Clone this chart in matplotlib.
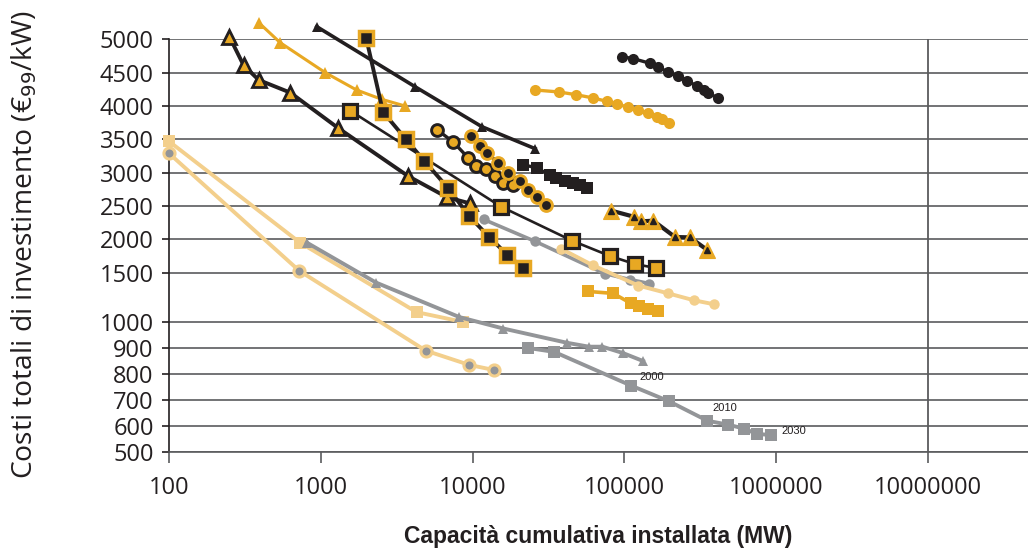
import numpy as np
import matplotlib
matplotlib.use("Agg")
import matplotlib.pyplot as plt
from matplotlib.ticker import NullLocator

INK = '#231F20'
GOLD = '#E8A823'
PEACH = '#F3CF8C'
GREY = '#939598'
GRID = '#5A5B5D'

# ---- axis ticks ----
x_ticks = [100, 1000, 10000, 100000, 1000000, 10000000]
x_tick_labels = ['100', '1000', '10000', '100000', '1000000', '10000000']
y_ticks = [500, 600, 700, 800, 900, 1000, 1500, 2000, 2500, 3000, 3500, 4000, 4500, 5000]

# ---- learning-curve series: cumulative capacity (MW) and cost (EUR99/kW) ----
s01_cap = [250, 310, 390, 630, 1300, 3750, 6800, 9600]
s01_cost = [5040, 4610, 4390, 4200, 3670, 2950, 2630, 2540]

s02_cap = [390, 540, 1070, 1720, 2520, 3590]
s02_cost = [5250, 4950, 4500, 4240, 4100, 4000]

s03_cap = [940, 4170, 11500, 25800]
s03_cost = [5190, 4290, 3690, 3360]

s04_cap = [1990, 2570, 3640, 4790, 6890, 9470, 12800, 16900, 21500]
s04_cost = [5020, 3910, 3500, 3180, 2770, 2350, 2040, 1770, 1570]

s05_cap = [1560, 15400, 45200, 80400, 117000, 162000]
s05_cost = [3930, 2490, 1980, 1750, 1630, 1570]

s06_cap = [5860, 7460, 9370, 10600, 12200, 14100, 15800, 18400]
s06_cost = [3640, 3460, 3220, 3100, 3050, 2950, 2840, 2820]

s07_cap = [9720, 11200, 12500, 14800, 17200, 20500, 23300, 26400, 30600]
s07_cost = [3550, 3400, 3290, 3150, 3000, 2870, 2740, 2630, 2510]

s08_cap = [21500, 26600, 32400, 35400, 40900, 45800, 51000, 57000]
s08_cost = [3120, 3070, 2960, 2920, 2880, 2850, 2810, 2770]

s09_cap = [96000, 114500, 147500, 165600, 192800, 224400, 259500, 299300, 335800, 357000, 415500]
s09_cost = [4740, 4710, 4640, 4590, 4510, 4450, 4380, 4300, 4240, 4190, 4120]

s10_cap = [25800, 37100, 47800, 62400, 76400, 89800, 105600, 122900, 142000, 164000, 176100, 196800]
s10_cost = [4240, 4210, 4170, 4120, 4070, 4030, 3980, 3940, 3890, 3840, 3810, 3750]

s11_cap = [82200, 115200, 128600, 155000, 215400, 270500, 351600]
s11_cost = [2430, 2340, 2270, 2280, 2035, 2030, 1840]

s12_cap = [11800, 25800, 74500, 109400, 145900]
s12_cost = [2300, 1970, 1490, 1430, 1390]

s13_cap = [38200, 62100, 123500, 194600, 287400, 389000]
s13_cost = [1860, 1610, 1370, 1290, 1220, 1180]

s14_cap = [57600, 84500, 110000, 125400, 143600, 167200]
s14_cost = [1310, 1290, 1190, 1160, 1130, 1110]

s15_cap = [100, 730, 4280, 8690]
s15_cost = [3470, 1950, 1100, 1000]

s16_cap = [100, 720, 4910, 9510, 13900]
s16_cost = [3290, 1530, 890, 835, 815]

s17_cap = [810, 2310, 8180, 15900, 41900, 58400, 71700, 98400, 132600]
s17_cost = [1950, 1400, 1050, 975, 920, 905, 905, 880, 850]

s18_cap = [23300, 34500, 111100, 196800, 352700, 483600, 613700, 743800, 923900]
s18_cost = [900, 885, 755, 695, 620, 605, 590, 570, 565]

year_labels = ['2000', '2010', '2030']
year_cap = [124800, 377700, 1076000]
year_cost = [790, 668, 582]

# ---- piecewise-linear cost axis (linear 500-1000, 1000-1500, 1500-5000) ----
_kv = np.array([500., 1000., 1500., 5000.])
_kp = np.array([0., 130., 179.3, 412.7])
_s_lo = 130. / 500.
_s_hi = (412.7 - 179.3) / 3500.


def fwd(v):
    v = np.asarray(v, float)
    return np.where(v < 500, (v - 500) * _s_lo,
                    np.where(v > 5000, 412.7 + (v - 5000) * _s_hi,
                             np.interp(v, _kv, _kp)))


def inv(p):
    p = np.asarray(p, float)
    return np.where(p < 0, 500 + p / _s_lo,
                    np.where(p > 412.7, 5000 + (p - 412.7) / _s_hi,
                             np.interp(p, _kp, _kv)))


W, H = 1028, 553
fig = plt.figure(figsize=(W / 100, H / 100), dpi=100)
ax = fig.add_axes([169 / W, 1 - 452 / H, 1 - 169 / W, (452 - 39.3) / H])
ax.set_xscale('log')
ax.set_yscale('function', functions=(fwd, inv))
ax.set_xlim(100, 10 ** (2 + (W - 169) / 151.8))
ax.set_ylim(500, 5000)

for side in ('top', 'right'):
    ax.spines[side].set_visible(False)
ax.spines['left'].set_color(INK)
ax.spines['left'].set_linewidth(1.2)
ax.spines['bottom'].set_color(GRID)
ax.spines['bottom'].set_linewidth(1.2)

ax.set_xticks(x_ticks)
ax.set_xticklabels(x_tick_labels)
ax.set_yticks(y_ticks)
ax.set_yticklabels([str(v) for v in y_ticks])
ax.xaxis.set_minor_locator(NullLocator())
ax.yaxis.set_minor_locator(NullLocator())

ax.tick_params(axis='x', direction='out', length=8, width=1.2, color=GRID,
               pad=9, labelsize=17, labelcolor=INK)
ax.tick_params(axis='y', direction='out', length=5, width=1.2, color=INK,
               pad=6, labelsize=17, labelcolor=INK)
for lab in ax.get_xticklabels() + ax.get_yticklabels():
    lab.set_family('Open Sans')

ax.yaxis.grid(True, color=GRID, lw=1.2, zorder=0)
ax.set_axisbelow(True)
ax.axvline(1e7, color=GRID, lw=1.3, zorder=1)


def draw(x, y, color, lw, marker, ms, mfc, mec, mew, z=3):
    ax.plot(x, y, color=color, lw=lw, marker=marker, ms=ms, mfc=mfc, mec=mec,
            mew=mew, clip_on=False, zorder=z, solid_joinstyle='round')


# light curves underneath
draw(s15_cap, s15_cost, PEACH, 2.8, 's', 8.5, PEACH, PEACH, 0, 3)
draw(s16_cap, s16_cost, PEACH, 2.8, 'o', 8, GREY, PEACH, 2.2, 3)
draw(s17_cap, s17_cost, GREY, 2.8, '^', 7, GREY, GREY, 0, 3.2)
draw(s18_cap, s18_cost, GREY, 2.8, 's', 8, GREY, GREY, 0, 3)
draw(s12_cap, s12_cost, GREY, 2.6, 'o', 7.5, GREY, GREY, 0, 3)
draw(s13_cap, s13_cost, PEACH, 2.8, 'o', 7.5, PEACH, PEACH, 0, 3.1)
draw(s14_cap, s14_cost, GOLD, 2.6, 's', 8.5, GOLD, GOLD, 0, 3.1)

# dark and gold curves
draw(s02_cap, s02_cost, GOLD, 2.2, '^', 8, GOLD, GOLD, 0, 4)
draw(s03_cap, s03_cost, INK, 2.6, '^', 7.5, INK, INK, 0, 4)
draw(s01_cap, s01_cost, INK, 2.8, '^', 9.5, GOLD, INK, 2.0, 4.2)
draw(s05_cap, s05_cost, INK, 1.9, 's', 9.5, GOLD, INK, 2.3, 4.1)
draw(s04_cap, s04_cost, INK, 2.8, 's', 9.5, INK, GOLD, 2.5, 4.3)
draw(s06_cap, s06_cost, INK, 2.4, 'o', 8.5, GOLD, INK, 2.1, 4.4)
draw(s07_cap, s07_cost, INK, 2.4, 'o', 8.5, INK, GOLD, 2.1, 4.5)
draw(s08_cap, s08_cost, INK, 2.4, 's', 8, INK, INK, 0, 4.4)
draw(s09_cap, s09_cost, INK, 2.4, 'o', 8, INK, INK, 0, 4)
draw(s10_cap, s10_cost, GOLD, 2.4, 'o', 8, GOLD, GOLD, 0, 4)
draw(s11_cap, s11_cost, INK, 3.0, '^', 11.5, GOLD, GOLD, 0.8, 4)
ax.plot(s11_cap, s11_cost, ls='none', marker='^', ms=4.8, mfc=INK, mec=INK,
        clip_on=False, zorder=4.1)

for lab, xv, yv in zip(year_labels, year_cap, year_cost):
    ax.text(xv, yv, lab, fontsize=8, color=INK, ha='left', va='center',
            family='Liberation Sans', zorder=5)

ax.set_xlabel('Capacità cumulativa installata (MW)', fontsize=16.5,
              fontweight='bold', family='Liberation Sans', color=INK,
              labelpad=18)
fig.text(24 / W, 1 - 244 / H, 'Costi totali di investimento (€$_{99}$/kW)',
         rotation=90, ha='center', va='center', fontsize=20.3,
         family='Open Sans', color=INK)

fig.savefig('out.png', dpi=100)
